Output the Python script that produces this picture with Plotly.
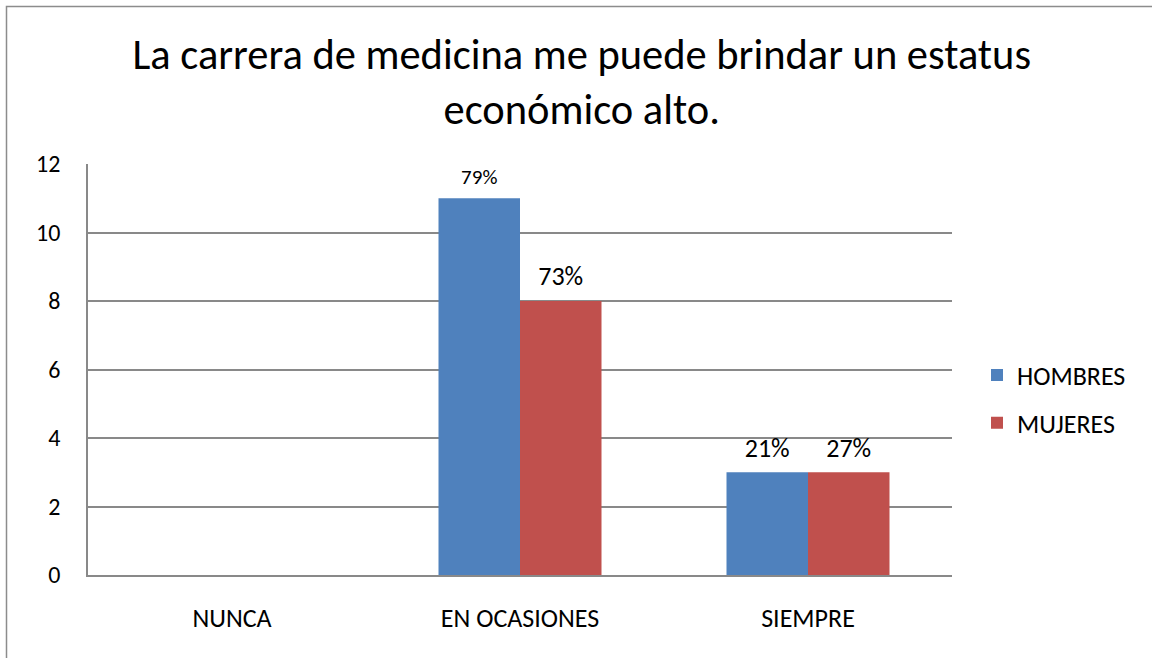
import plotly.graph_objects as go

CATEGORIES = ["NUNCA", "EN OCASIONES", "SIEMPRE"]
HOMBRES = [0, 11, 3]
MUJERES = [0, 8, 3]
HOMBRES_LABELS = ["", "79%", "21%"]
MUJERES_LABELS = ["", "73%", "27%"]
HOMBRES_LABEL_SIZES = [26, 21, 26]
MUJERES_LABEL_SIZES = [26, 26, 26]
Y_TICKS = [0, 2, 4, 6, 8, 10, 12]

BLUE = "#4F81BD"
RED = "#C0504D"
GRID = "#898989"
FONT = "Carlito, Calibri, 'Open Sans', sans-serif"

W, H = 1152, 658
L, R, T, B = 88, 200, 164, 83
PW, PH = W - L - R, H - T - B


def px_x(x):
    return (x - L) / PW


def px_y(y):
    return (H - B - y) / PH


fig = go.Figure()
for name, vals, color, group in [
    ("HOMBRES", HOMBRES, BLUE, "h"),
    ("MUJERES", MUJERES, RED, "m"),
]:
    fig.add_trace(
        go.Bar(
            name=name,
            x=CATEGORIES,
            y=vals,
            marker=dict(color=color, line=dict(width=0)),
            offsetgroup=group,
            legendgroup=group,
        )
    )

# value labels sit above the bars, aligned to the same groups
for labels, sizes, vals, group in [
    (HOMBRES_LABELS, HOMBRES_LABEL_SIZES, HOMBRES, "h"),
    (MUJERES_LABELS, MUJERES_LABEL_SIZES, MUJERES, "m"),
]:
    fig.add_trace(
        go.Scatter(
            x=CATEGORIES,
            y=vals,
            mode="markers+text",
            text=labels,
            textposition="top center",
            textfont=dict(family=FONT, size=sizes, color="#000000"),
            marker=dict(size=13, color="rgba(0,0,0,0)"),
            offsetgroup=group,
            showlegend=False,
            hoverinfo="skip",
            cliponaxis=False,
        )
    )

fig.update_layout(
    width=W,
    height=H,
    margin=dict(l=L, r=R, t=T, b=B),
    paper_bgcolor="white",
    plot_bgcolor="white",
    barmode="group",
    scattermode="group",
    bargap=0.434,
    bargroupgap=0,
    scattergap=0.434,
    font=dict(family=FONT, size=26, color="#000000"),
    title=dict(
        text="La carrera de medicina me puede brindar un estatus<br>económico alto.",
        x=0.505,
        xref="container",
        xanchor="center",
        y=1 - 69 / H,
        yanchor="middle",
        font=dict(family=FONT, size=42.5, color="#000000"),
    ),
    legend=dict(
        x=px_x(977),
        xanchor="left",
        y=px_y(399),
        yanchor="middle",
        font=dict(family=FONT, size=26),
        tracegroupgap=11,
        bgcolor="rgba(0,0,0,0)",
    ),
    showlegend=True,
    shapes=[
        dict(
            type="rect",
            xref="paper",
            yref="paper",
            x0=px_x(6.5),
            x1=px_x(W + 20),
            y0=px_y(H + 20),
            y1=px_y(6.5),
            line=dict(color="#8C8C8C", width=1.5),
            fillcolor="rgba(0,0,0,0)",
            layer="below",
        )
    ],
)

fig.update_xaxes(
    showgrid=False,
    showline=True,
    linecolor=GRID,
    linewidth=1.5,
    ticks="",
    ticklabelstandoff=19,
    tickfont=dict(family=FONT, size=26),
)
fig.update_yaxes(
    range=[0, 12],
    tickvals=Y_TICKS,
    showgrid=True,
    gridcolor=GRID,
    gridwidth=1.5,
    showline=True,
    linecolor=GRID,
    linewidth=1.5,
    zeroline=False,
    ticks="",
    ticklabelstandoff=21,
    tickfont=dict(family=FONT, size=24),
)

# drop the browser's default page margin so the figure sits at the top-left corner
fig.write_html(
    "out.html",
    config={"displayModeBar": False},
    post_script="document.body.style.margin='0';",
)
